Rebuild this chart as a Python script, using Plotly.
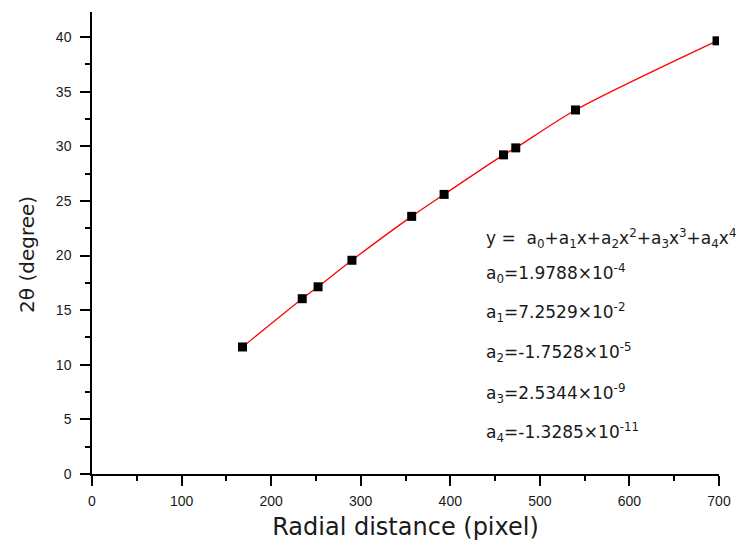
import plotly.graph_objects as go

# Data
radial_px = [168.0, 234.7, 252.4, 290.2, 356.9, 393.1, 459.4, 473.1, 539.8, 697.8]
two_theta = [11.63, 16.05, 17.14, 19.57, 23.59, 25.60, 29.22, 29.86, 33.33, 39.66]

x_ticks = [0, 100, 200, 300, 400, 500, 600, 700]
y_ticks = [0, 5, 10, 15, 20, 25, 30, 35, 40]

eq_lines = [
    "y = &nbsp;a<sub>0</sub>+a<sub>1</sub>x+a<sub>2</sub>x<sup>2</sup>+a<sub>3</sub>x<sup>3</sup>+a<sub>4</sub>x<sup>4</sup>",
    "a<sub>0</sub>=1.9788×10<sup>-4</sup>",
    "a<sub>1</sub>=7.2529×10<sup>-2</sup>",
    "a<sub>2</sub>=-1.7528×10<sup>-5</sup>",
    "a<sub>3</sub>=2.5344×10<sup>-9</sup>",
    "a<sub>4</sub>=-1.3285×10<sup>-11</sup>",
]
eq_y = [21.6, 18.35, 14.8, 11.1, 7.4, 3.8]

FONT = "Liberation Sans, Arial, sans-serif"
WIDE = "DejaVu Sans, Verdana, sans-serif"
TXT = "#1a1a1a"

fig = go.Figure()
fig.add_trace(go.Scatter(
    x=radial_px, y=two_theta, mode="lines",
    line=dict(color="#ff0000", width=1.3, shape="spline", smoothing=0.8),
    showlegend=False, hoverinfo="skip"))
fig.add_trace(go.Scatter(
    x=radial_px, y=two_theta, mode="markers",
    marker=dict(symbol="square", size=9, color="black"),
    showlegend=False))

for txt, yy in zip(eq_lines, eq_y):
    fig.add_annotation(x=437.2, y=yy, xref="x", yref="y", text=txt,
                       showarrow=False, xanchor="left", yanchor="middle",
                       font=dict(family=WIDE, size=17, color=TXT))

# y-axis title placed as rotated annotation
fig.add_annotation(x=-0.104, y=0.476, xref="paper", yref="paper",
                   text="2θ (degree)", textangle=-90, showarrow=False,
                   xanchor="center", yanchor="middle",
                   font=dict(family=WIDE, size=20, color=TXT))

axis_common = dict(
    showline=True, linecolor="black", linewidth=1.5,
    ticks="outside", ticklen=10, tickwidth=1.5, tickcolor="black",
    showgrid=False, zeroline=False, mirror=False,
    tickfont=dict(family=FONT, size=14, color=TXT),
    minor=dict(ticks="outside", ticklen=5, tickwidth=1.5, tickcolor="black"),
)

fig.update_xaxes(
    range=[0, 700], tickmode="array", tickvals=x_ticks,
    ticklabelstandoff=3,
    minor_dtick=50,
    title=dict(text="Radial distance (pixel)", font=dict(family=WIDE, size=24, color=TXT), standoff=11),
    **axis_common)
fig.update_yaxes(
    range=[0, 42.3], tickmode="array", tickvals=y_ticks,
    ticklabelstandoff=6,
    minor_dtick=2.5,
    **axis_common)

fig.update_layout(
    width=743, height=548,
    margin=dict(l=91.5, r=21, t=12, b=73),
    paper_bgcolor="white", plot_bgcolor="white",
)

fig.write_html("out.html")
